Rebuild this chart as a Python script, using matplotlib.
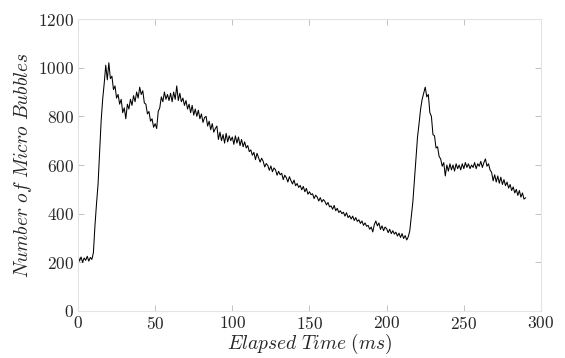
import numpy as np
import matplotlib.pyplot as plt

# ─── DATA (1 ms steps) ───
t_ms = np.arange(0, 291)
n_bubbles = [
    230, 205, 222, 200, 218, 208, 225, 205, 220, 212,
    240, 350, 440, 520, 650, 780, 870, 935, 1010, 950,
    1020, 955, 965, 910, 925, 875, 890, 850, 870, 815,
    835, 790, 850, 830, 870, 845, 885, 860, 900, 875,
    920, 890, 905, 855, 850, 810, 820, 780, 790, 755,
    770, 750, 820, 835, 880, 860, 900, 870, 890, 865,
    895, 860, 900, 870, 925, 865, 895, 860, 875, 845,
    865, 830, 850, 815, 845, 805, 830, 800, 825, 790,
    810, 775, 795, 800, 760, 780, 745, 770, 735, 750,
    760, 705, 735, 700, 725, 690, 730, 695, 720, 700,
    715, 685, 720, 690, 715, 680, 705, 675, 695, 670,
    680, 655, 662, 640, 652, 622, 648, 630, 612, 628,
    615, 592, 606, 598, 578, 596, 572, 588, 580, 558,
    574, 560, 566, 540, 558, 548, 530, 552, 536, 522,
    538, 515, 524, 508, 516, 498, 512, 490, 504, 480,
    490, 478, 482, 462, 476, 468, 452, 466, 448, 458,
    450, 436, 446, 428, 432, 418, 434, 412, 422, 405,
    412, 400, 406, 390, 404, 384, 392, 378, 390, 372,
    384, 368, 375, 360, 370, 352, 362, 348, 352, 336,
    345, 325, 355, 370, 350, 362, 335, 350, 330, 345,
    338, 322, 336, 318, 330, 316, 324, 308, 320, 302,
    318, 298, 310, 292, 305, 330, 390, 450, 540, 630,
    715, 770, 830, 870, 895, 920, 880, 890, 815, 800,
    725, 720, 670, 675, 635, 625, 595, 610, 555, 600,
    575, 605, 580, 600, 575, 605, 585, 600, 580, 605,
    585, 610, 590, 605, 585, 600, 590, 610, 585, 605,
    595, 615, 590, 610, 625, 595, 605, 580, 570, 535,
    560, 530, 555, 525, 550, 520, 540, 515, 530, 505,
    520, 495, 510, 485, 500, 475, 495, 468, 485, 460,
    465,
]

x_ticks = [0, 50, 100, 150, 200, 250, 300]
y_ticks = [0, 200, 400, 600, 800, 1000, 1200]

# ─── STYLE ───────────────────────────────────────
plt.rcParams['font.family'] = 'cmr10'
plt.rcParams['mathtext.fontset'] = 'cm'
plt.rcParams['axes.formatter.use_mathtext'] = True

fig = plt.figure(figsize=(5.65, 3.58), dpi=100)
ax = fig.add_axes([0.138, 0.1313, 0.8195, 0.8156])

ax.plot(t_ms, n_bubbles, color='black', linewidth=0.75)

ax.set_xlim(0, 300)
ax.set_ylim(0, 1200)
ax.set_xticks(x_ticks)
ax.set_yticks(y_ticks)
ax.tick_params(direction='in', length=4, width=0.6, color='#b8b8b8',
               labelcolor='#262626', labelsize=12.5, top=True, right=True,
               pad=3)
for s in ax.spines.values():
    s.set_color('#e3e3e3')
    s.set_linewidth(0.8)

ax.set_xlabel(r'$Elapsed\ Time\ (ms)$', fontsize=14, color='#262626',
              labelpad=0)
ax.set_ylabel(r'$Number\ of\ Micro\ Bubbles$', fontsize=14,
              color='#262626', labelpad=3)

plt.savefig('out.png', dpi=100)
